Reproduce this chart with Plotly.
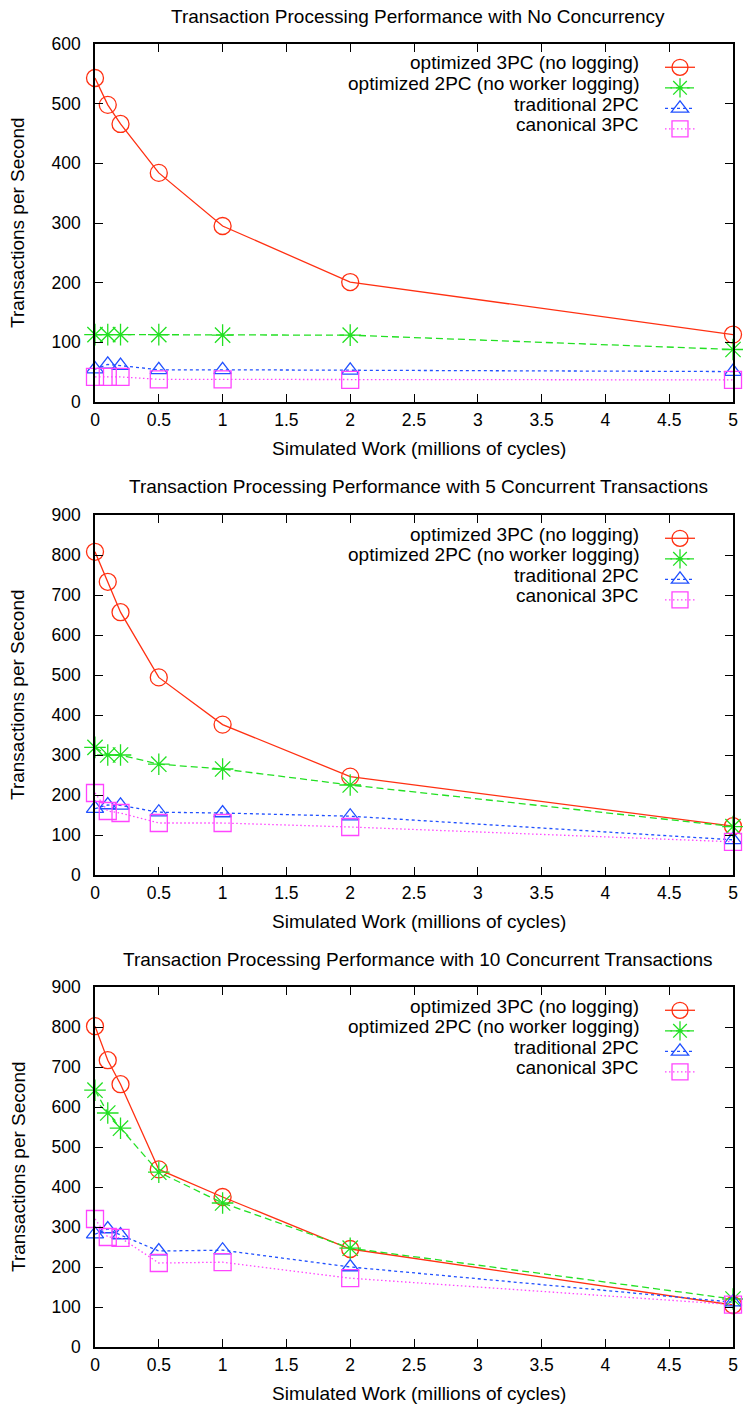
import plotly.graph_objects as go

# ---------------- data ----------------
work = [0, 0.1, 0.2, 0.5, 1, 2, 5]

series_names = [
    "optimized 3PC (no logging)",
    "optimized 2PC (no worker logging)",
    "traditional 2PC",
    "canonical 3PC",
]

titles = [
    "Transaction Processing Performance with No Concurrency",
    "Transaction Processing Performance with 5 Concurrent Transactions",
    "Transaction Processing Performance with 10 Concurrent Transactions",
]

# panel 1: no concurrency
p1_opt3pc = [543, 498, 466, 384, 295, 201, 113]
p1_opt2pc = [113, 113, 113, 113, 112, 112, 88]
p1_trad2pc = [55, 63, 61, 54, 54, 53, 51]
p1_canon3pc = [42, 42, 42, 38, 38, 37, 37]

# panel 2: 5 concurrent transactions
p2_opt3pc = [808, 733, 657, 494, 376, 246, 122]
p2_opt2pc = [319, 300, 300, 277, 265, 225, 121]
p2_trad2pc = [166, 175, 174, 157, 155, 147, 88]
p2_canon3pc = [205, 160, 155, 130, 130, 120, 83]

# panel 3: 10 concurrent transactions
p3_opt3pc = [802, 717, 657, 444, 375, 245, 105]
p3_opt2pc = [642, 585, 547, 437, 360, 247, 120]
p3_trad2pc = [282, 295, 280, 240, 242, 200, 112]
p3_canon3pc = [320, 275, 273, 210, 212, 172, 106]

panels = [
    [p1_opt3pc, p1_opt2pc, p1_trad2pc, p1_canon3pc],
    [p2_opt3pc, p2_opt2pc, p2_trad2pc, p2_canon3pc],
    [p3_opt3pc, p3_opt2pc, p3_trad2pc, p3_canon3pc],
]
y_max = [600, 900, 900]
x_ticks = [0, 0.5, 1, 1.5, 2, 2.5, 3, 3.5, 4, 4.5, 5]
x_title = "Simulated Work (millions of cycles)"
y_title = "Transactions per Second"

# ---------------- styles ----------------
colors = ["#ff3012", "#22e022", "#2050ff", "#ff44ff"]
dashes = ["solid", "7px,4px", "3px,3px", "1.5px,2.5px"]
symbols = ["circle-open", "asterisk-open", "triangle-up-open", "square-open"]
msizes = [17, 18, 15, 17]

W, H = 743, 1404
L, R = 95, 733
panel_px = [(44, 402), (515, 875), (987, 1347)]
FONT = "Liberation Sans, Arial, Helvetica, sans-serif"
FS = 19
TFS = 17.5


def px_x(px):
    return (px - L) / (R - L)


def px_y(py):
    return 1 - py / H


fig = go.Figure()
annotations = []
layout = {}
for i, (top, bot) in enumerate(panel_px):
    ax = "" if i == 0 else str(i + 1)
    leg = "legend" if i == 0 else "legend" + str(i + 1)
    for k in range(4):
        fig.add_trace(go.Scatter(
            x=work, y=panels[i][k], name="",
            mode="lines+markers",
            line=dict(color=colors[k], width=1.3, dash=dashes[k]),
            marker=dict(symbol=symbols[k], size=msizes[k], color=colors[k],
                        line=dict(width=1.3, color=colors[k])),
            cliponaxis=False,
            xaxis="x" + ax, yaxis="y" + ax, legend=leg,
            hoverinfo="x+y",
        ))
    common = dict(showline=True, linecolor="black", linewidth=1.5, mirror="allticks",
                  ticks="inside", ticklen=8, tickwidth=1.2, tickcolor="black",
                  showgrid=False, zeroline=False, automargin=False,
                  tickfont=dict(family=FONT, size=TFS, color="black"))
    layout["xaxis" + ax] = dict(common, range=[0, 5], tickvals=x_ticks,
                                domain=[0, 1], anchor="y" + ax, ticklabelstandoff=1)
    layout["yaxis" + ax] = dict(common, range=[0, y_max[i]], dtick=100,
                                domain=[px_y(bot), px_y(top)], anchor="x" + ax,
                                ticklabelstandoff=9)
    # legend symbols
    layout[leg] = dict(x=px_x(660), xanchor="left", y=px_y(top + 8), yanchor="top",
                       bgcolor="rgba(0,0,0,0)", borderwidth=0,
                       font=dict(family=FONT, size=13.5), tracegroupgap=0,
                       itemclick=False, itemdoubleclick=False)
    # legend labels
    for k in range(4):
        annotations.append(dict(text=series_names[k], x=px_x(641), xanchor="right",
                                y=px_y(top + 19 + 20.5 * k), yanchor="middle",
                                xref="paper", yref="paper", showarrow=False,
                                font=dict(family=FONT, size=FS, color="black")))
    # titles
    annotations.append(dict(text=titles[i], x=px_x(418), xanchor="center",
                            y=px_y(top - 28), yanchor="middle", xref="paper", yref="paper",
                            showarrow=False, font=dict(family=FONT, size=FS, color="black")))
    annotations.append(dict(text=x_title, x=px_x(419), xanchor="center",
                            y=px_y(bot + 46), yanchor="middle", xref="paper", yref="paper",
                            showarrow=False, font=dict(family=FONT, size=FS, color="black")))
    annotations.append(dict(text=y_title, x=px_x(18), xanchor="center",
                            y=px_y((top + bot) / 2), yanchor="middle", textangle=-90,
                            xref="paper", yref="paper",
                            showarrow=False, font=dict(family=FONT, size=FS, color="black")))

fig.update_layout(
    width=W, height=H,
    margin=dict(l=L, r=W - R, t=0, b=0, pad=0, autoexpand=False),
    paper_bgcolor="white", plot_bgcolor="white",
    showlegend=True,
    annotations=annotations,
    **layout,
)

fig.write_html(
    "out.html",
    config={"displayModeBar": False},
    post_script=(
        "document.documentElement.style.margin='0';"
        "document.body.style.margin='0';"
        "document.documentElement.style.overflow='hidden';"
        "document.body.style.overflow='hidden';"
        "var gd=document.getElementById('{plot_id}');"
        "gd.style.position='fixed';gd.style.left='0px';gd.style.top='0px';"
    ),
)
